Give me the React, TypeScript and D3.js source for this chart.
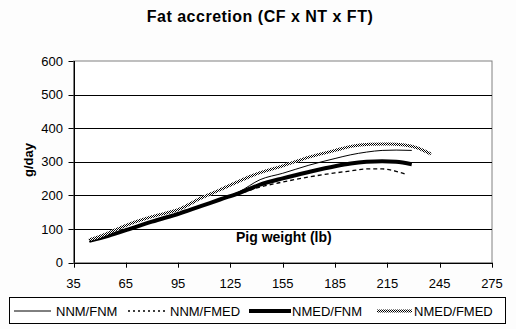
import React from "react";
import * as d3 from "d3";

const weightsThick = [44, 55, 67, 80, 96, 108, 119, 130, 142, 155, 170, 185, 194, 203, 212, 220, 229];
const nmedFnm = [65, 80, 100, 122, 147, 168, 188, 207, 232, 251, 270, 287, 295, 300, 302, 300, 293];

const weightsThin = [44, 55, 67, 80, 96, 108, 119, 130, 142, 155, 170, 185, 194, 203, 212, 220, 229];
const nnmFnm = [65, 80, 100, 122, 146, 167, 189, 211, 247, 266, 290, 310, 321, 329, 334, 335, 334];

const weightsDash = [44, 55, 67, 80, 96, 108, 119, 130, 142, 155, 170, 185, 194, 203, 212, 220, 226];
const nnmFmed = [65, 80, 100, 122, 146, 167, 188, 205, 225, 240, 255, 267, 273, 279, 279, 272, 262];

const weightsDot = [44, 50, 67, 80, 96, 108, 119, 130, 142, 155, 170, 185, 194, 205, 215, 225, 233, 240];
const nmedFmed = [68, 78, 115, 137, 160, 192, 217, 243, 268, 288, 314, 334, 346, 352, 353, 350, 340, 323];

const xTicks = [35, 65, 95, 125, 155, 185, 215, 245, 275];
const yTicks = [0, 100, 200, 300, 400, 500, 600];
const legendLabels = ["NNM/FNM", "NNM/FMED", "NMED/FNM", "NMED/FMED"];

const FONT = "'Liberation Sans', Arial, sans-serif";

export default function App() {
  const x = d3.scaleLinear().domain([35, 275]).range([73.5, 492]);
  const y = d3.scaleLinear().domain([0, 600]).range([262.7, 61]);
  const line = d3
    .line<[number, number]>()
    .x((d) => x(d[0]))
    .y((d) => y(d[1]))
    .curve(d3.curveMonotoneX);
  const zip = (a: number[], b: number[]) => a.map((v, i) => [v, b[i]] as [number, number]);

  const series = [
    { name: legendLabels[0], d: line(zip(weightsThin, nnmFnm)), stroke: "#000", w: 1, dash: undefined as string | undefined },
    { name: legendLabels[1], d: line(zip(weightsDash, nnmFmed)), stroke: "#000", w: 1.3, dash: "4 3" },
    { name: legendLabels[2], d: line(zip(weightsThick, nmedFnm)), stroke: "#000", w: 4, dash: undefined },
    { name: legendLabels[3], d: line(zip(weightsDot, nmedFmed)), stroke: "url(#checker)", w: 3, dash: undefined },
  ];

  const x0 = x(35), x1 = x(275), yTop = y(600), yBot = y(0);

  const legendItems = [
    { lx0: 14, lx1: 51, tx: 56, s: series[0] },
    { lx0: 128, lx1: 168, tx: 170, s: series[1] },
    { lx0: 249, lx1: 291, tx: 292, s: series[2] },
    { lx0: 377, lx1: 412, tx: 414, s: series[3] },
  ];

  return (
    <div style={{ position: "absolute", left: 0, top: 0 }}>
      <svg width={516} height={329} style={{ display: "block" }}>
        <defs>
          <pattern id="checker" x={0} y={0} width={2} height={2} patternUnits="userSpaceOnUse">
            <rect x={0} y={0} width={2} height={2} fill="#fff" />
            <rect x={0} y={0} width={1} height={1} fill="#000" />
            <rect x={1} y={1} width={1} height={1} fill="#000" />
          </pattern>
        </defs>
        <rect width={516} height={329} fill="#fdfdfd" />
        <text x={260} y={22} textAnchor="middle" fontFamily={FONT} fontWeight="bold" fontSize={16} letterSpacing={0.5}>
          Fat accretion (CF x NT x FT)
        </text>
        <rect x={x0} y={yTop} width={x1 - x0} height={yBot - yTop} fill="#fff" stroke="#808080" strokeWidth={1} />
        {yTicks.filter((t) => t > 0 && t < 600).map((t) => (
          <line key={t} x1={x0} x2={x1} y1={Math.round(y(t)) + 0.5} y2={Math.round(y(t)) + 0.5} stroke="#000" strokeWidth={1} />
        ))}
        <line x1={Math.round(x0) + 0.5} x2={Math.round(x0) + 0.5} y1={yTop} y2={yBot} stroke="#000" />
        <line x1={x0} x2={x1} y1={Math.round(yBot) + 0.5} y2={Math.round(yBot) + 0.5} stroke="#000" />
        {yTicks.map((t) => (
          <g key={t}>
            <line x1={x0 - 5} x2={x0} y1={Math.round(y(t)) + 0.5} y2={Math.round(y(t)) + 0.5} stroke="#000" />
            <text x={63} y={y(t) + 4.5} textAnchor="end" fontFamily={FONT} fontSize={13}>
              {t}
            </text>
          </g>
        ))}
        {xTicks.map((t) => (
          <g key={t}>
            <line x1={Math.round(x(t)) + 0.5} x2={Math.round(x(t)) + 0.5} y1={yBot} y2={yBot + 5} stroke="#000" />
            <text x={x(t)} y={288} textAnchor="middle" fontFamily={FONT} fontSize={13}>
              {t}
            </text>
          </g>
        ))}
        <text x={236} y={241.5} fontFamily={FONT} fontWeight="bold" fontSize={14}>
          Pig weight (lb)
        </text>
        <text transform="translate(32.5,160) rotate(-90)" textAnchor="middle" fontFamily={FONT} fontWeight="bold" fontSize={13}>
          g/day
        </text>
        {series.map((s) => (
          <path key={s.name} d={s.d || ""} fill="none" stroke={s.stroke} strokeWidth={s.w} strokeDasharray={s.dash} />
        ))}
        <rect x={9.5} y={297.5} width={496} height={26} fill="#fff" stroke="#000" />
        {legendItems.map((it) => (
          <g key={it.s.name}>
            <line x1={it.lx0} x2={it.lx1} y1={311} y2={311} stroke={it.s.stroke} strokeWidth={it.s.w} strokeDasharray={it.s.dash ? "2 3" : undefined} />
            <text x={it.tx} y={315.5} fontFamily={FONT} fontSize={13}>
              {it.s.name}
            </text>
          </g>
        ))}
      </svg>
    </div>
  );
}
